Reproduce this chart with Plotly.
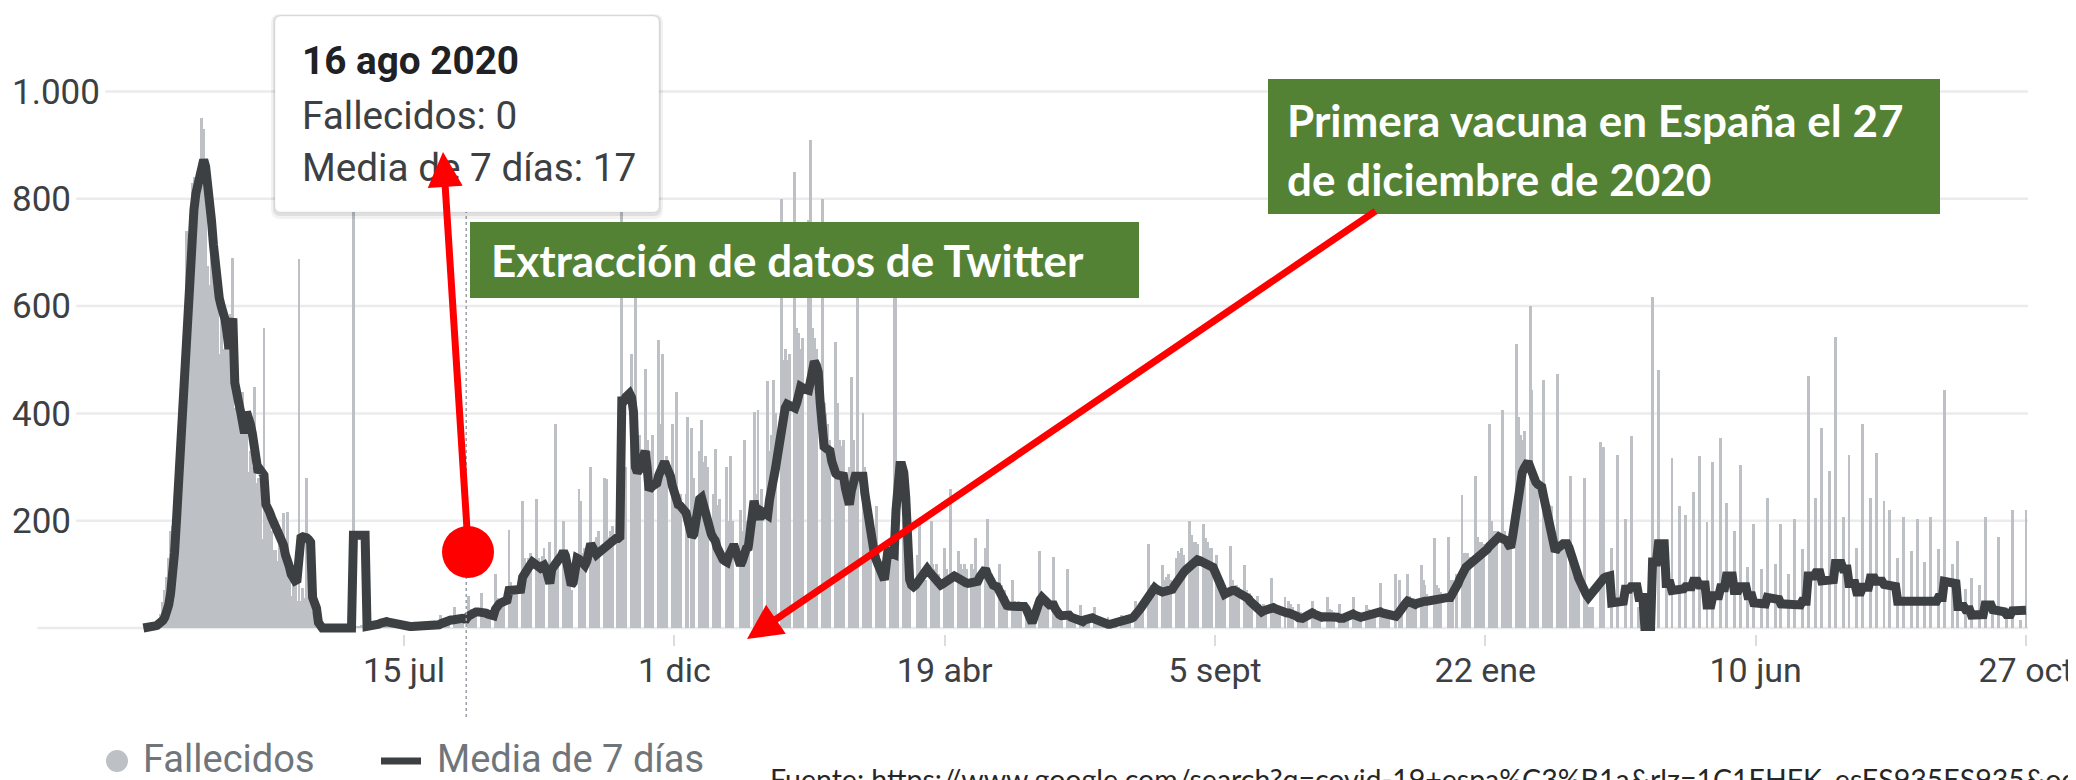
import pandas as pd
import plotly.graph_objects as go

fallecidos_2020 = [
    0, 1, 1, 3, 5, 7, 11, 12, 19, 27, 48, 70, 95, 130, 180, 190, 230, 290, 330, 390, 460, 520, 740, 660, 770, 830, 840, 810, 850,  # mar (desde el 3)
    865, 950, 930, 810, 675, 640, 745, 760, 685, 605, 510, 620, 520, 565, 525, 550, 585, 690, 410, 400, 430, 435, 440, 370, 380, 290, 330, 300, 450, 270,  # abr
    280, 275, 165, 560, 245, 215, 230, 180, 145, 145, 125, 175, 185, 215, 140, 217, 90, 60, 85, 95, 50, 687, 50, 75, 55, 280, 60, 50, 30, 25, 20,  # may
    0, 0, 0, 0, 0, 0, 0, 0, 0, 0, 0, 0, 0, 0, 0, 0, 0, 0, 1179, 3, 2, 4, 5, 3, 6, 4, 2, 3, 8, 6,  # jun
    6, 8, 10, 9, 7, 20, 12, 10, 12, 9, 0, 0, 12, 6, 6, 5, 6, 0, 0, 7, 3, 4, 3, 4, 0, 0, 8, 4, 5, 4, 5,  # jul
    0, 0, 25, 12, 12, 10, 11, 0, 0, 40, 20, 22, 18, 19, 0, 0, 60, 35, 33, 34, 33, 0, 0, 65, 30, 32, 35, 30, 0, 0, 100,  # ago
    55, 50, 55, 55, 0, 0, 183, 85, 70, 75, 80, 0, 0, 237, 130, 120, 130, 140, 0, 0, 240, 130, 125, 135, 150, 0, 0, 160, 110, 120,  # sep
    380, 130, 0, 0, 200, 140, 100, 90, 70, 0, 0, 0, 260, 237, 140, 150, 0, 0, 300, 160, 155, 170, 180, 0, 0, 280, 277, 170, 180, 190, 0,  # oct
    0, 250, 240, 1790, 280, 300, 0, 0, 510, 420, 623, 350, 360, 0, 0, 483, 350, 330, 320, 360, 0, 0, 537, 380, 510, 300, 320, 0, 0, 380,  # nov
    240, 440, 240, 250, 0, 0, 250, 393, 0, 373, 280, 0, 0, 330, 387, 310, 320, 300, 0, 0, 250, 333, 230, 240, 0, 0, 0, 300, 200, 320, 200,  # dic
]
fallecidos_2021 = [
    0, 0, 0, 220, 180, 350, 200, 200, 0, 0, 403, 250, 407, 230, 260, 0, 0, 460, 330, 360, 463, 400, 0, 0, 800, 500, 520, 500, 510, 0, 0,  # ene
    850, 560, 550, 520, 540, 0, 0, 760, 910, 560, 540, 520, 0, 0, 800, 420, 400, 380, 350, 0, 0, 533, 420, 350, 340, 350, 0, 0,  # feb
    300, 467, 350, 260, 617, 0, 0, 400, 300, 200, 230, 170, 0, 0, 227, 140, 120, 110, 100, 0, 0, 140, 130, 650, 700, 150, 0, 0, 200, 157, 140,  # mar
    100, 0, 0, 0, 137, 193, 110, 100, 90, 0, 0, 200, 120, 110, 120, 100, 0, 0, 150, 110, 90, 260, 90, 0, 0, 143, 120, 110, 120, 110,  # abr
    0, 0, 120, 110, 167, 100, 100, 0, 0, 150, 203, 100, 100, 90, 0, 0, 120, 80, 70, 70, 60, 0, 0, 90, 50, 45, 50, 45, 0, 0, 40,  # may
    20, 15, 15, 10, 0, 0, 143, 60, 50, 50, 50, 0, 0, 133, 30, 25, 25, 20, 0, 0, 110, 15, 15, 12, 10, 0, 0, 43, 20, 15,  # jun
    12, 10, 0, 0, 40, 20, 15, 15, 15, 0, 0, 20, 10, 10, 8, 8, 0, 0, 25, 15, 15, 12, 13, 0, 0, 50, 40, 45, 50, 55, 0,  # jul
    0, 157, 80, 75, 80, 78, 0, 0, 117, 90, 95, 100, 90, 0, 0, 130, 143, 140, 150, 137, 0, 0, 200, 173, 160, 160, 157, 0, 0, 193, 167,  # ago
    160, 150, 150, 0, 0, 137, 100, 90, 90, 80, 0, 0, 153, 90, 80, 80, 77, 0, 0, 117, 70, 65, 65, 60, 0, 0, 60, 45, 40, 45,  # sep
    40, 0, 0, 93, 40, 35, 35, 37, 0, 0, 57, 0, 50, 45, 40, 0, 0, 45, 30, 25, 25, 25, 0, 0, 50, 35, 30, 30, 25, 0, 0,  # oct
    0, 57, 35, 33, 30, 0, 0, 45, 25, 25, 22, 23, 0, 0, 57, 28, 27, 25, 23, 0, 0, 43, 35, 30, 32, 30, 0, 0, 83, 35,  # nov
    30, 27, 25, 0, 0, 0, 100, 0, 90, 40, 0, 0, 100, 60, 55, 55, 50, 0, 0, 117, 90, 80, 63, 0, 0, 0, 167, 80, 75, 68, 0,  # dic
]
fallecidos_2022 = [
    0, 0, 170, 90, 90, 0, 100, 0, 0, 247, 140, 140, 140, 133, 0, 0, 283, 170, 160, 160, 157, 0, 0, 380, 200, 180, 180, 180, 0, 0, 407,  # ene
    180, 170, 170, 170, 0, 0, 530, 393, 360, 350, 367, 0, 0, 600, 443, 300, 280, 277, 0, 0, 463, 250, 230, 230, 227, 0, 0, 473,  # feb
    160, 150, 150, 147, 0, 0, 283, 110, 100, 105, 100, 0, 0, 280, 50, 40, 40, 40, 0, 0, 0, 347, 0, 337, 0, 0, 0, 150, 0, 0, 323,  # mar
    0, 0, 0, 203, 0, 0, 357, 0, 0, 0, 40, 0, 0, 0, 0, 0, 0, 617, 0, 0, 480, 0, 0, 0, 100, 0, 0, 317, 0, 0,  # abr
    0, 227, 0, 0, 210, 0, 0, 0, 253, 0, 0, 320, 0, 0, 0, 197, 0, 0, 310, 0, 0, 0, 355, 0, 0, 233, 0, 0, 0, 180, 0,  # may
    0, 303, 0, 0, 0, 113, 0, 0, 193, 0, 0, 0, 110, 0, 0, 243, 0, 0, 0, 120, 0, 0, 193, 0, 0, 0, 100, 0, 0, 203,  # jun
    0, 0, 0, 147, 0, 0, 470, 0, 0, 0, 243, 0, 0, 373, 0, 0, 0, 293, 0, 0, 543, 0, 0, 0, 207, 0, 0, 323, 0, 0, 0,  # jul
    150, 0, 0, 380, 0, 0, 0, 243, 0, 0, 327, 0, 0, 0, 237, 0, 0, 220, 0, 0, 0, 130, 0, 0, 207, 0, 0, 0, 143, 0, 0,  # ago
    203, 0, 0, 0, 123, 0, 0, 207, 0, 0, 0, 147, 0, 0, 443, 0, 0, 0, 120, 0, 0, 163, 0, 0, 0, 73, 0, 0, 93, 0,  # sep
    0, 0, 80, 0, 0, 207, 0, 0, 0, 30, 0, 0, 170, 0, 0, 0, 20, 0, 0, 220, 0, 0, 0, 15, 0, 0, 220,  # oct (hasta el 27)
]

# Media de 7 días
media_2020 = [
    0, 0, 1, 1, 2, 3, 4, 5, 7, 10, 14, 20, 28, 43, 65, 95, 140, 200, 270, 340, 405, 470, 537, 610, 683, 740, 780, 810, 830,
    845, 862, 873, 860, 835, 803, 760, 715, 670, 640, 615, 600, 590, 575, 550, 520, 560, 577, 457, 445, 420, 403, 385, 363, 403, 395, 380, 363, 330, 290,
    290, 295, 290, 285, 230, 225, 215, 205, 197, 190, 180, 177, 170, 155, 137, 130, 115, 100, 90, 88, 90, 165, 168, 170, 170, 168, 165, 160, 57, 45, 37,
    10, 0, 0, 0, 0, 0, 0, 0, 0, 0, 0, 0, 0, 0, 0, 0, 0, 0, 173, 173, 173, 173, 173, 173, 173, 3, 3, 4, 5, 5,
    6, 7, 9, 11, 12, 12, 11, 10, 8, 7, 6, 5, 5, 4, 4, 3, 3, 3, 3, 3, 3, 3, 3, 3, 3, 3, 4, 4, 4, 5, 5,
    5, 6, 8, 10, 12, 14, 15, 15, 15, 16, 18, 20, 19, 18, 17, 17, 22, 25, 28, 30, 30, 30, 30, 31, 30, 28, 26, 24, 23, 23, 35,
    43, 45, 47, 48, 50, 52, 70, 70, 68, 70, 72, 70, 72, 95, 103, 105, 110, 118, 123, 120, 113, 110, 112, 115, 117, 110, 95, 83, 110, 117,
    120, 125, 130, 135, 143, 135, 120, 95, 80, 85, 100, 130, 128, 125, 120, 117, 125, 140, 157, 150, 145, 137, 140, 143, 147, 150, 155, 160, 163, 165, 166,
    167, 167, 170, 423, 423, 430, 437, 437, 430, 403, 300, 290, 295, 305, 320, 330, 300, 257, 262, 265, 268, 270, 285, 298, 305, 310, 300, 292, 283, 265,
    250, 240, 230, 228, 225, 223, 215, 200, 185, 170, 175, 200, 225, 240, 243, 230, 210, 190, 185, 175, 168, 163, 150, 140, 130, 128, 125, 123, 135, 145, 150,
]
media_2021 = [
    150, 140, 130, 117, 125, 140, 148, 150, 180, 215, 237, 220, 205, 203, 217, 215, 212, 210, 240, 270, 290, 297, 320, 350, 377, 395, 410, 417, 415, 412, 410,
    410, 420, 435, 450, 448, 445, 443, 443, 460, 480, 497, 490, 477, 420, 343, 338, 335, 332, 330, 310, 290, 288, 285, 284, 283, 283, 260, 240,
    230, 255, 275, 283, 283, 283, 283, 283, 250, 223, 190, 165, 150, 135, 125, 117, 105, 95, 90, 120, 150, 140, 137, 137, 220, 303, 303, 303, 290, 243, 150,
    90, 80, 77, 80, 85, 88, 90, 95, 105, 110, 105, 100, 97, 92, 88, 83, 80, 82, 85, 88, 90, 92, 95, 97, 95, 92, 90, 88, 86, 84,
    83, 84, 85, 86, 87, 87, 95, 100, 105, 110, 100, 90, 83, 80, 78, 77, 70, 60, 50, 43, 42, 41, 40, 40, 40, 40, 40, 40, 40, 40, 35,
    25, 15, 10, 20, 35, 45, 52, 57, 52, 47, 43, 43, 43, 43, 35, 27, 25, 23, 24, 25, 27, 24, 20, 18, 16, 14, 12, 10, 12, 15,
    17, 19, 20, 19, 17, 15, 14, 13, 11, 9, 8, 7, 7, 8, 9, 10, 10, 10, 10, 10, 12, 14, 16, 18, 20, 23, 28, 33, 38, 44, 50,
    55, 62, 70, 77, 75, 72, 69, 67, 67, 68, 69, 70, 70, 72, 78, 85, 92, 97, 100, 104, 108, 112, 115, 117, 121, 125, 127, 126, 124, 121, 119,
    117, 115, 114, 113, 105, 95, 85, 75, 68, 63, 65, 68, 70, 70, 70, 68, 66, 65, 64, 63, 60, 55, 50, 46, 43, 40, 36, 33, 30, 32,
    34, 36, 38, 40, 38, 36, 34, 32, 30, 29, 29, 28, 28, 27, 27, 25, 22, 19, 17, 18, 20, 23, 26, 30, 28, 26, 24, 22, 20, 20, 21,
    21, 22, 23, 23, 22, 21, 20, 18, 17, 18, 20, 22, 25, 27, 26, 24, 22, 21, 20, 21, 22, 23, 23, 23, 25, 27, 30, 30, 30, 28,
    27, 25, 23, 21, 20, 20, 22, 26, 33, 38, 42, 46, 50, 48, 45, 43, 44, 46, 48, 49, 50, 50, 50, 51, 52, 53, 54, 55, 56, 57, 57,
]
media_2022 = [
    57, 57, 57, 57, 62, 70, 77, 83, 92, 102, 110, 113, 116, 119, 121, 123, 126, 129, 131, 134, 137, 142, 147, 152, 157, 162, 166, 170, 170, 168, 166,
    165, 163, 155, 150, 170, 197, 230, 260, 283, 290, 298, 305, 310, 300, 285, 277, 272, 268, 265, 263, 245, 230, 215, 203, 185, 165, 143, 148,
    152, 157, 157, 157, 157, 150, 135, 125, 117, 105, 93, 83, 75, 68, 62, 57, 62, 67, 70, 75, 82, 88, 90, 93, 95, 97, 97, 47, 47, 47, 50,
    50, 50, 50, 72, 72, 72, 77, 77, 77, 77, 57, 57, 57, 3, 3, 3, 3, 123, 123, 123, 157, 157, 157, 157, 83, 83, 83, 70, 70, 70,
    70, 73, 73, 73, 77, 77, 77, 77, 87, 87, 87, 80, 80, 80, 80, 43, 43, 43, 60, 60, 60, 60, 75, 75, 75, 97, 97, 97, 97, 70, 70,
    70, 77, 77, 77, 77, 60, 60, 60, 47, 47, 47, 47, 45, 45, 45, 57, 57, 57, 57, 53, 53, 53, 45, 45, 45, 45, 43, 43, 43, 43,
    43, 43, 43, 50, 50, 50, 97, 97, 97, 97, 103, 103, 103, 88, 88, 88, 88, 90, 90, 90, 120, 120, 120, 120, 110, 110, 110, 83, 83, 83, 83,
    67, 67, 67, 76, 76, 76, 76, 93, 93, 93, 87, 87, 87, 87, 81, 81, 81, 77, 77, 77, 77, 50, 50, 50, 48, 48, 48, 48, 50, 50, 50,
    49, 49, 49, 49, 47, 47, 47, 50, 50, 50, 50, 57, 57, 57, 87, 87, 87, 87, 83, 83, 83, 40, 40, 40, 40, 34, 34, 34, 24, 24,
    24, 24, 25, 25, 25, 43, 43, 43, 43, 34, 34, 34, 30, 30, 30, 30, 25, 25, 25, 32, 32, 32, 32, 34, 34, 34, 33,
]

assert len(fallecidos_2020) == len(media_2020) == 304, (len(fallecidos_2020), len(media_2020))
assert len(fallecidos_2021) == len(media_2021) == 365, (len(fallecidos_2021), len(media_2021))
assert len(fallecidos_2022) == len(media_2022) == 300, (len(fallecidos_2022), len(media_2022))

fechas = (list(pd.date_range('2020-03-03', periods=len(fallecidos_2020)))
          + list(pd.date_range('2021-01-01', periods=len(fallecidos_2021)))
          + list(pd.date_range('2022-01-01', periods=len(fallecidos_2022))))
fallecidos = fallecidos_2020 + fallecidos_2021 + fallecidos_2022
media = media_2020 + media_2021 + media_2022

x_ticks = ['2020-07-15', '2020-12-01', '2021-04-19', '2021-09-05', '2022-01-22', '2022-06-10', '2022-10-27']
x_labels = ['15 jul', '1 dic', '19 abr', '5 sept', '22 ene', '10 jun', '27 oct']
y_ticks = [0, 200, 400, 600, 800, 1000]
y_labels = ['0', '200', '400', '600', '800', '1.000']

FONT = 'Roboto, Arial, sans-serif'
BOLD = 'Lato, Noto Sans, sans-serif'
GREEN = '#548235'
RED = '#ff0000'

# la página añade 8 px de margen; todo se mide en píxeles de la página
OFF = 8
W, H = 2076 - OFF, 780 - OFF
Lp, Rp, Tp, Bp = 9, 2042, 38, 634
Y0, PX_UNIT = 628, 0.5365        # píxel del 0 y píxeles por fallecido
X0, PX_DAY = 404, 1.9448          # píxel del 15 jul 2020 y píxeles por día

ref = pd.Timestamp('2020-07-15')
x_range = [ref - pd.Timedelta(days=(X0 - Lp) / PX_DAY), ref + pd.Timedelta(days=(Rp - X0) / PX_DAY)]
y_range = [-(Bp - Y0) / PX_UNIT, (Y0 - Tp) / PX_UNIT]


def px(x):
    return (x - Lp) / (Rp - Lp)


def py(y):
    return (Bp - y) / (Bp - Tp)


def rrect(x0, y0, x1, y1, r):
    X, Y = px, py
    return (f'M {X(x0 + r)},{Y(y0)} L {X(x1 - r)},{Y(y0)} Q {X(x1)},{Y(y0)} {X(x1)},{Y(y0 + r)} '
            f'L {X(x1)},{Y(y1 - r)} Q {X(x1)},{Y(y1)} {X(x1 - r)},{Y(y1)} '
            f'L {X(x0 + r)},{Y(y1)} Q {X(x0)},{Y(y1)} {X(x0)},{Y(y1 - r)} '
            f'L {X(x0)},{Y(y0 + r)} Q {X(x0)},{Y(y0)} {X(x0 + r)},{Y(y0)} Z')


def note(text, x, y, size, color, family=FONT, yanchor='middle'):
    return dict(text=text, x=px(x), y=py(y), xref='paper', yref='paper', showarrow=False,
                xanchor='left', yanchor=yanchor, font=dict(size=size, color=color, family=family))


fig = go.Figure()
fig.add_trace(go.Bar(x=fechas, y=fallecidos, name='Fallecidos', marker_color='#bdc1c6',
                     marker_line_width=0, width=1.5 * 86400000))
fig.add_trace(go.Scatter(x=fechas, y=media, mode='lines', name='Media de 7 días',
                         line=dict(color='#3c4043', width=9)))

shapes = []
# líneas de cuadrícula (empiezan después de la etiqueta)
for v, lab in zip(y_ticks, y_labels):
    x0 = 13 + 19.4 * sum(c.isdigit() for c in lab) + 9.5 * lab.count('.') + 5
    shapes.append(dict(type='line', xref='paper', yref='y', x0=px(x0), x1=px(2028), y0=v, y1=v,
                       line=dict(color='#ebebeb', width=2.5), layer='below'))

# línea punteada del tooltip
shapes.append(dict(type='line', xref='x', yref='paper', x0='2020-08-16', x1='2020-08-16',
                   y0=py(717), y1=py(212), line=dict(color='#9aa0a6', width=1.5, dash='dot'), layer='above'))
# tooltip con sombra
shapes.append(dict(type='path', xref='paper', yref='paper', path=rrect(271, 14, 663, 219, 9),
                   fillcolor='rgba(0,0,0,0.05)', line_width=0, layer='above'))
shapes.append(dict(type='path', xref='paper', yref='paper', path=rrect(273, 15, 661, 216, 7),
                   fillcolor='rgba(0,0,0,0.08)', line_width=0, layer='above'))
shapes.append(dict(type='path', xref='paper', yref='paper', path=rrect(275, 16, 659, 212, 6),
                   fillcolor='white', line=dict(color='rgba(0,0,0,0.06)', width=1), layer='above'))
# recuadros verdes
shapes.append(dict(type='rect', xref='paper', yref='paper', x0=px(470), x1=px(1139), y0=py(298), y1=py(222),
                   fillcolor=GREEN, line_width=0, layer='above'))
shapes.append(dict(type='rect', xref='paper', yref='paper', x0=px(1268), x1=px(1940), y0=py(214), y1=py(79),
                   fillcolor=GREEN, line_width=0, layer='above'))
# punto rojo
shapes.append(dict(type='circle', xref='paper', yref='paper', x0=px(442), x1=px(494), y0=py(578), y1=py(526),
                   fillcolor=RED, line_width=0, layer='above'))
# leyenda
shapes.append(dict(type='circle', xref='paper', yref='paper', x0=px(106), x1=px(128), y0=py(772), y1=py(750),
                   fillcolor='#bdc1c6', line_width=0))
shapes.append(dict(type='line', xref='paper', yref='paper', x0=px(381), x1=px(421), y0=py(761), y1=py(761),
                   line=dict(color='#3c4043', width=7)))

annotations = [
    note('<b>16 ago 2020</b>', 300, 60, 38.7, '#202124'),
    note('Fallecidos: 0', 300, 116, 38.7, '#3c4043'),
    note('Media de 7 días: 17', 300, 167, 38.7, '#3c4043'),
    note('<b>Extracción de datos de Twitter</b>', 489, 260, 44, 'white', BOLD),
    note('<b>Primera vacuna en España el 27</b>', 1285, 120, 44, 'white', BOLD),
    note('<b>de diciembre de 2020</b>', 1285, 179, 44, 'white', BOLD),
    note('Fallecidos', 141, 759, 38, '#70757a'),
    note('Media de 7 días', 435, 759, 38, '#70757a'),
    note('Fuente: https://www.google.com/search?q=covid-19+espa%C3%B1a&amp;rlz=1C1EHFK_esES935ES935&amp;'
         'oq=covid-19+espa%C3%B1a&amp;aqs=chrome', 768, 760, 28.5, '#262626', BOLD, 'top'),
    # flechas rojas
    dict(x=px(443), y=py(152), xref='paper', yref='paper', ax=25, ay=393, text='', showarrow=True,
         arrowhead=2, arrowsize=1, arrowwidth=7, arrowcolor=RED),
    dict(x=px(747), y=py(639), xref='paper', yref='paper', ax=630, ay=-429, text='', showarrow=True,
         arrowhead=2, arrowsize=1, arrowwidth=7, arrowcolor=RED),
]

fig.update_layout(
    width=W, height=H,
    margin=dict(l=Lp - OFF, r=W - (Rp - OFF), t=Tp - OFF, b=H - (Bp - OFF), autoexpand=False),
    paper_bgcolor='white', plot_bgcolor='white',
    font=dict(family=FONT, color='#3c4043'),
    showlegend=False, bargap=0,
    shapes=shapes, annotations=annotations,
    xaxis=dict(type='date', range=x_range, tickvals=x_ticks, ticktext=x_labels,
               showgrid=False, zeroline=False, showline=False, ticks='outside', ticklen=11, tickwidth=2,
               tickcolor='#dadce0', tickfont=dict(size=34, color='#3c4043'), ticklabelstandoff=-5,
               automargin=False),
    yaxis=dict(range=y_range, tickvals=y_ticks, ticktext=y_labels, showgrid=False, zeroline=False,
               showline=False, ticks='', ticklabelposition='inside', tickfont=dict(size=35, color='#3c4043'),
               automargin=False),
)

fig.write_html('out.html')
